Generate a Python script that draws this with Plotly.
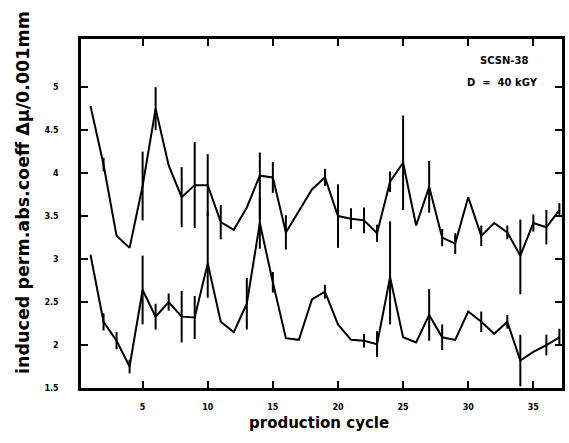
import plotly.graph_objects as go

cycles = list(range(1, 38))

upper = [4.78, 4.10, 3.27, 3.13, 3.85, 4.75, 4.09, 3.72, 3.86, 3.86,
         3.43, 3.34, 3.60, 3.97, 3.95, 3.31, 3.56, 3.81, 3.95, 3.50,
         3.47, 3.45, 3.30, 3.90, 4.12, 3.39, 3.84, 3.25, 3.18, 3.72,
         3.27, 3.42, 3.31, 3.04, 3.42, 3.37, 3.57]
upper_err_plus = [0, 0.08, 0, 0, 0.40, 0.25, 0, 0.35, 0.50, 0.36,
                  0.20, 0, 0, 0.27, 0.18, 0.20, 0, 0, 0.10, 0.37,
                  0.12, 0.15, 0.10, 0.12, 0.55, 0, 0.30, 0.10, 0.12, 0,
                  0.12, 0, 0.08, 0.42, 0.10, 0.20, 0.08]
upper_err_minus = [0, 0.08, 0, 0, 0.40, 0.25, 0, 0.35, 0.50, 0.36,
                   0.20, 0, 0, 0.50, 0.18, 0.20, 0, 0, 0.10, 0.37,
                   0.12, 0.15, 0.10, 0.12, 0.55, 0, 0.30, 0.10, 0.12, 0,
                   0.12, 0, 0.08, 0.45, 0.10, 0.20, 0.08]

lower = [3.05, 2.27, 2.05, 1.75, 2.64, 2.33, 2.50, 2.33, 2.32, 2.95,
         2.27, 2.15, 2.48, 3.42, 2.73, 2.08, 2.06, 2.53, 2.62, 2.24,
         2.06, 2.05, 2.01, 2.79, 2.09, 2.03, 2.35, 2.09, 2.06, 2.39,
         2.27, 2.13, 2.27, 1.82, 1.92, 2.00, 2.09]
lower_err_plus = [0, 0.10, 0.10, 0.08, 0.40, 0.15, 0.10, 0.30, 0.25, 0.60,
                  0, 0, 0.30, 0.30, 0.12, 0, 0, 0, 0.08, 0,
                  0, 0.08, 0.15, 0.65, 0, 0, 0.30, 0.15, 0, 0,
                  0.12, 0, 0.08, 0.30, 0, 0.12, 0.10]
lower_err_minus = [0, 0.10, 0.10, 0.08, 0.40, 0.15, 0.10, 0.30, 0.25, 0.40,
                   0, 0, 0.30, 0.30, 0.12, 0, 0, 0, 0.08, 0,
                   0, 0.08, 0.15, 0.55, 0, 0, 0.30, 0.15, 0, 0,
                   0.12, 0, 0.08, 0.30, 0, 0.12, 0.10]

x_ticks = [5, 10, 15, 20, 25, 30, 35]
y_ticks = [1.5, 2, 2.5, 3, 3.5, 4, 4.5, 5]
y_tick_labels = ["1.5", "2", "2.5", "3", "3.5", "4", "4.5", "5"]

fig = go.Figure()
for vals, ep, em in [(upper, upper_err_plus, upper_err_minus),
                     (lower, lower_err_plus, lower_err_minus)]:
    fig.add_trace(go.Scatter(
        x=cycles, y=vals, mode="lines",
        line=dict(color="black", width=2),
        error_y=dict(type="data", symmetric=False, array=ep, arrayminus=em,
                     color="black", thickness=2, width=0),
        showlegend=False,
    ))

tickfont = dict(family="DejaVu Sans", size=8, color="black", weight="bold")
fig.update_xaxes(range=[0.27, 37.2], tickvals=x_ticks, ticks="inside",
                 ticklen=7, tickwidth=1.5, tickcolor="black", mirror="ticks",
                 showline=True, linecolor="black", linewidth=2.5,
                 showgrid=False, zeroline=False, tickfont=tickfont,
                 ticklabelstandoff=10)
fig.update_yaxes(range=[1.5, 5.56], tickvals=y_ticks, ticktext=y_tick_labels,
                 ticks="inside", ticklen=7, tickwidth=1.5, tickcolor="black",
                 mirror="ticks", showline=True, linecolor="black", linewidth=2.5,
                 showgrid=False, zeroline=False, tickfont=tickfont,
                 ticklabelstandoff=18)

big = dict(family="DejaVu Sans", color="black", weight="bold")
fig.update_layout(
    width=569, height=443,
    margin=dict(l=81, r=4, t=39, b=55),
    paper_bgcolor="white", plot_bgcolor="white",
    annotations=[
        dict(text="production cycle", xref="paper", yref="paper",
             x=0.494, y=-0.1, xanchor="center", yanchor="middle",
             showarrow=False, font=dict(size=15, **big)),
        dict(text="induced perm.abs.coeff Δμ/0.001mm", xref="paper", yref="paper",
             x=-0.122, y=0.56, xanchor="center", yanchor="middle", textangle=-90,
             showarrow=False, font=dict(size=17.5, **big)),
        dict(text="SCSN-38", xref="paper", yref="paper",
             x=0.88, y=0.937, xanchor="center", yanchor="middle", showarrow=False,
             font=dict(size=10, **big)),
        dict(text="D\u00a0\u00a0=\u00a0\u00a040\u00a0kGY", xref="paper", yref="paper",
             x=0.876, y=0.874, xanchor="center", yanchor="middle", showarrow=False,
             font=dict(size=10, **big)),
    ],
)

fig.write_html("out.html", config={"displayModeBar": False},
               post_script="document.body.style.margin='0';")
